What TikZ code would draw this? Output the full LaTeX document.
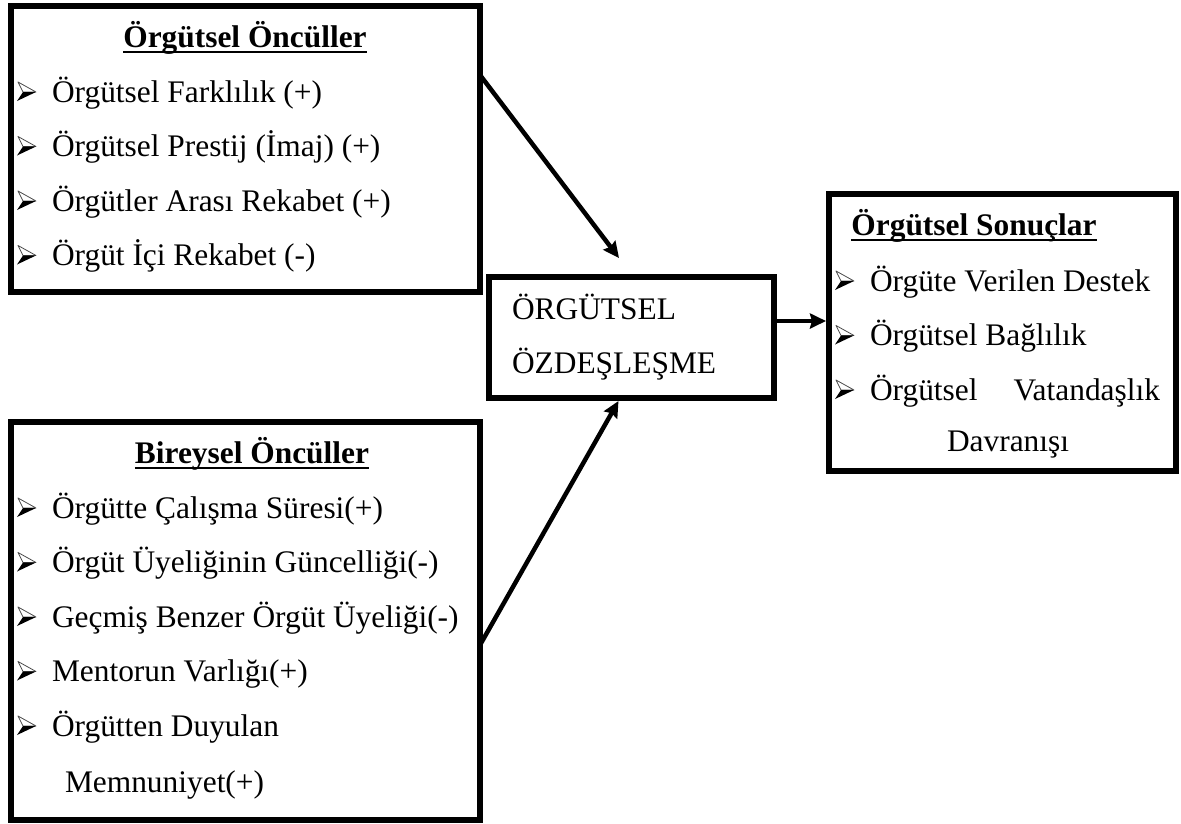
\documentclass[tikz,border=0pt]{standalone}
\usepackage{fontspec}
\setmainfont{Liberation Serif}
\usetikzlibrary{arrows.meta}

\begin{document}
\begin{tikzpicture}[x=1pt,y=-1pt,
  frame/.style={draw, line width=6.5pt, inner sep=0pt, outer sep=0pt},
  txt/.style={inner sep=0pt, outer sep=0pt, anchor=base west, font=\fontsize{31.4}{38}\selectfont},
  ttl/.style={inner sep=0pt, outer sep=0pt, anchor=base, font=\fontsize{31.4}{38}\selectfont\bfseries},
  uline/.style={line width=2.4pt},
  link/.style={line width=4.5pt, -{Stealth[length=16pt,width=15pt,inset=2pt]}},
  pics/arrowbullet/.style={code={
    \filldraw[fill=white, draw=black!70, line width=0.8pt, line join=round]
      (1,-20) -- (19,-10) -- (6,-10) -- cycle;
    \fill[black] (6,-10) -- (19,-10) -- (0,-1) -- cycle;
  }}]

\useasboundingbox (0,0) rectangle (1181,823);

% frames
\node[frame, minimum width=469pt, minimum height=286pt] (org) at (245.5,149) {};
\node[frame, minimum width=469pt, minimum height=398pt] (ind) at (245.5,621) {};
\node[frame, line width=6pt, minimum width=285pt, minimum height=121pt] (mid) at (631.5,337.5) {};
\node[frame, line width=6pt, minimum width=347pt, minimum height=277pt] (res) at (1002.5,332.5) {};

% organisational antecedents
\node[ttl] (t1) at (245,47) {Örgütsel Öncüller};
\draw[uline] ([yshift=-5pt]t1.base west) -- ([yshift=-5pt]t1.base east);
\foreach \t [count=\i] in {Örgütsel Farklılık (+), Örgütsel Prestij (İmaj) (+), Örgütler Arası Rekabet (+), Örgüt İçi Rekabet (-)} {
  \pic at (17,47.5+54.5*\i) {arrowbullet};
  \node[txt] (o\i) at (52,47.5+54.5*\i) {\t};
}

% individual antecedents
\node[ttl] (t2) at (252,463) {Bireysel Öncüller};
\draw[uline] ([yshift=-5pt]t2.base west) -- ([yshift=-5pt]t2.base east);
\foreach \t [count=\i] in {Örgütte Çalışma Süresi(+), Örgüt Üyeliğinin Güncelliği(-), Geçmiş Benzer Örgüt Üyeliği(-), Mentorun Varlığı(+), Örgütten Duyulan} {
  \pic at (17,463.5+54.5*\i) {arrowbullet};
  \node[txt] (b\i) at (52,463.5+54.5*\i) {\t};
}
\node[txt] (b6) at (65,792) {Memnuniyet(+)};

% identification
\node[txt] (m1) at (512,319) {ÖRGÜTSEL};
\node[txt] (m2) at (512,373) {ÖZDEŞLEŞME};

% organisational outcomes
\node[ttl] (t3) at (974,235) {Örgütsel Sonuçlar};
\draw[uline] ([yshift=-5pt]t3.base west) -- ([yshift=-5pt]t3.base east);
\pic at (835,291) {arrowbullet};
\node[txt] (r1) at (870,291) {Örgüte Verilen Destek};
\pic at (835,345.5) {arrowbullet};
\node[txt] (r2) at (870,345.5) {Örgütsel Bağlılık};
\pic at (835,400) {arrowbullet};
\node[txt] (r3) at (870,400) {\hbox to 290pt{Örgütsel\hfill Vatandaşlık}};
\node[txt] (r4) at (947,451) {Davranışı};

% connectors
\coordinate (t1end) at (619,258);
\draw[link] ([yshift=-69pt]org.north east) -- (t1end);
\draw[link] ([yshift=-223pt]ind.north east) -- ([xshift=-13pt,yshift=-3pt]mid.south);
\draw[link] ([yshift=16.5pt]mid.east) -- ([xshift=-3pt,yshift=11.5pt]res.west);

\end{tikzpicture}
\end{document}
